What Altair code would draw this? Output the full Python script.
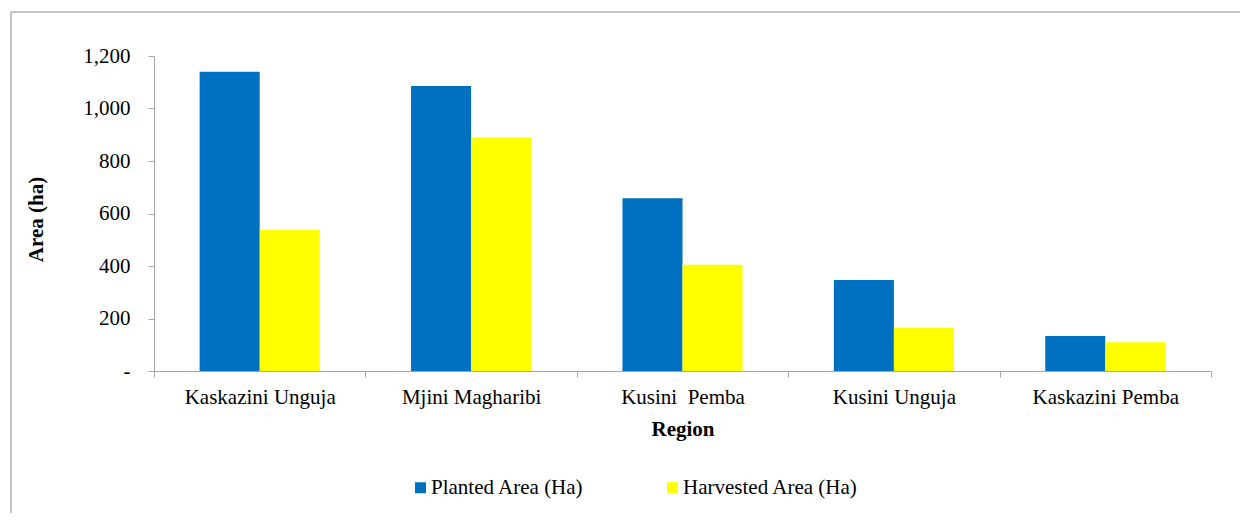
import altair as alt
import pandas as pd

regions = ["Kaskazini Unguja", "Mjini Magharibi", "Kusini\u00a0\u00a0Pemba", "Kusini Unguja", "Kaskazini Pemba"]
planted = [1140, 1086, 658, 347, 133]
harvested = [537, 890, 405, 165, 110]
series = ["Planted Area (Ha)", "Harvested Area (Ha)"]
colors = ["#0070C0", "#FFFF00"]
y_ticks = [0, 200, 400, 600, 800, 1000, 1200]

rows = []
for r, p, h in zip(regions, planted, harvested):
    rows.append({"Region": r, "Series": series[0], "Area": p})
    rows.append({"Region": r, "Series": series[1], "Area": h})
df = pd.DataFrame(rows)

FONT = "Liberation Serif"
AXIS_GREY = "#a6a6a6"
FRAME_GREY = "#8c8c8c"
W, H = 1057, 315

bars = alt.Chart(df).mark_bar().encode(
    x=alt.X(
        "Region:N",
        sort=regions,
        scale=alt.Scale(paddingInner=0, paddingOuter=0),
        axis=alt.Axis(
            title="Region",
            labelAngle=0,
            tickBand="extent",
            tickSize=6,
            tickColor=AXIS_GREY,
            domainColor=AXIS_GREY,
            labelFont=FONT,
            labelFontSize=21,
            labelColor="black",
            labelBaseline="alphabetic",
            labelPadding=26,
            labelLimit=400,
            titleFont=FONT,
            titleFontSize=21,
            titleFontWeight="bold",
            titleColor="black",
            titleBaseline="alphabetic",
            titleY=64,
        ),
    ),
    xOffset=alt.XOffset(
        "Series:N",
        sort=series,
        scale=alt.Scale(paddingInner=0, paddingOuter=0.76),
    ),
    y=alt.Y(
        "Area:Q",
        scale=alt.Scale(domain=[0, 1200], nice=False),
        axis=alt.Axis(
            title="Area (ha)",
            values=y_ticks,
            labelExpr="datum.value === 0 ? '-' : format(datum.value, ',')",
            grid=False,
            tickSize=6,
            tickColor=AXIS_GREY,
            domainColor=AXIS_GREY,
            labelFont=FONT,
            labelFontSize=21,
            labelColor="black",
            labelPadding=18,
            titleFont=FONT,
            titleFontSize=21,
            titleFontWeight="bold",
            titleColor="black",
            titleBaseline="middle",
            titleX=-118,
            titleY=163,
        ),
    ),
    color=alt.Color(
        "Series:N",
        sort=series,
        scale=alt.Scale(domain=series, range=colors),
        legend=alt.Legend(
            title=None,
            orient="none",
            legendX=256,
            legendY=421,
            direction="horizontal",
            symbolType="square",
            symbolSize=121,
            symbolStrokeWidth=0,
            labelFont=FONT,
            labelFontSize=21,
            labelColor="black",
            labelOffset=0,
            columnPadding=78,
            labelLimit=400,
        ),
    ),
)

frame_top = alt.Chart(alt.Data(values=[{}])).mark_rule(
    stroke=FRAME_GREY, strokeWidth=1
).encode(x=alt.value(-143), x2=alt.value(1094), y=alt.value(-44))

frame_left = alt.Chart(alt.Data(values=[{}])).mark_rule(
    stroke=FRAME_GREY, strokeWidth=1
).encode(x=alt.value(-143), y=alt.value(-44), y2=alt.value(465))

chart = alt.layer(frame_top, frame_left, bars).properties(
    width=W,
    height=H,
    autosize=alt.AutoSizeParams(type="none"),
    padding={"left": 146, "top": 48, "right": 29, "bottom": 142},
).configure(font=FONT).configure_view(strokeWidth=0).configure_legend(
    labelFont=FONT
).configure_axis(labelFont=FONT, titleFont=FONT)

chart.save("out.html", embed_options={"renderer": "svg", "actions": False})
